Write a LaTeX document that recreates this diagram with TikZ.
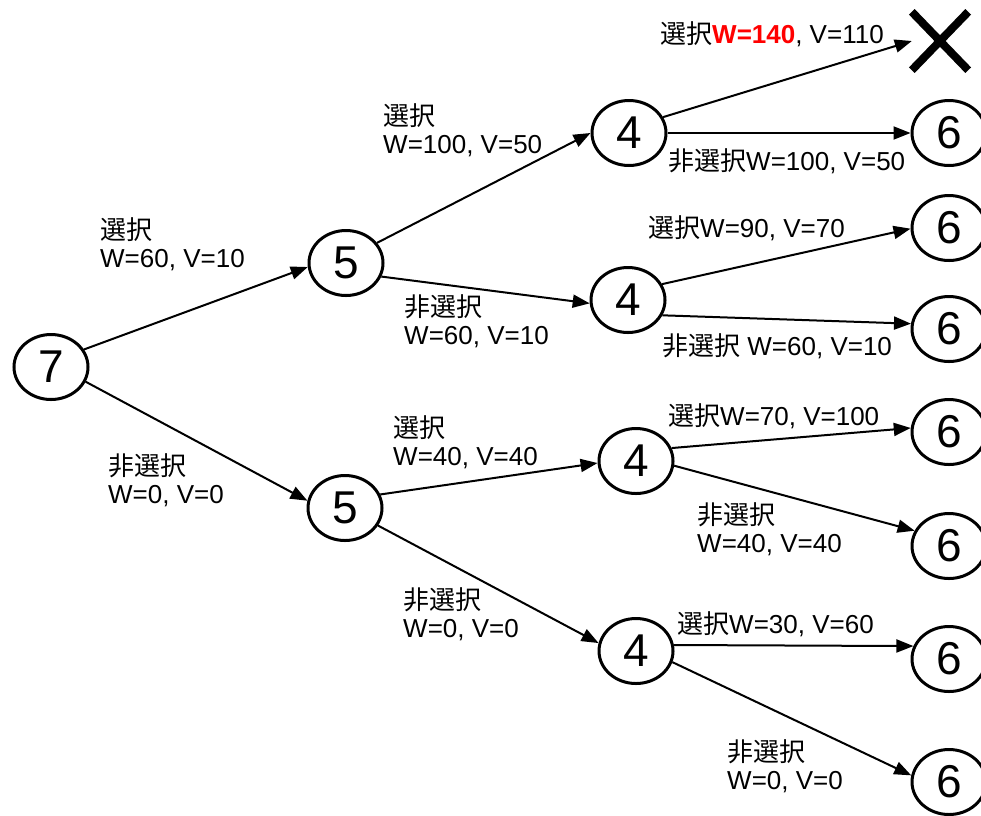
\documentclass[tikz,border=0pt]{standalone}
\usepackage{fontspec}
\setmainfont{Liberation Sans}
\newfontfamily\jp{Noto Sans CJK JP}
\usetikzlibrary{shapes.geometric,arrows.meta}
\newcommand\twol[2]{\begin{tabular}[t]{@{}l@{}}#1\\#2\end{tabular}}
\begin{document}
\begin{tikzpicture}[x=1pt,y=-1pt,
  st/.style={ellipse, draw, line width=3pt, minimum width=74pt, minimum height=65pt, inner sep=0pt,
    font=\fontsize{46}{46}\selectfont},
  lbl/.style={anchor=base west, inner sep=0pt, font=\fontsize{26}{28}\selectfont},
  edge/.style={line width=2pt, -{Triangle[length=17pt,width=13pt]}},
  cross/.style={line width=8pt}]
\useasboundingbox (0,0) rectangle (981,815);
% state nodes
\node[st] (n7) at (51,367) {7};
\node[st] (n5a) at (346,263) {5};
\node[st] (n5b) at (345,508) {5};
\node[st] (n4a) at (629,133) {4};
\node[st] (n4b) at (628,300) {4};
\node[st] (n4c) at (636,461) {4};
\node[st] (n4d) at (636,651) {4};
\node[st] (n6a) at (949,133) {6};
\node[st] (n6b) at (949,228) {6};
\node[st] (n6c) at (949,329) {6};
\node[st] (n6d) at (949,432) {6};
\node[st] (n6e) at (949,546) {6};
\node[st] (n6f) at (949,659) {6};
\node[st] (n6g) at (949,782) {6};
% cross
\node[inner sep=0pt, minimum width=56pt, minimum height=58pt] (x) at (940,41) {};
\draw[cross] (x.north west) -- (x.south east);
\draw[cross] (x.south west) -- (x.north east);
% edges
\draw[edge] (n7.28) -- (n5a.186);
\draw[edge] (n7.337) -- (n5b.169);
\draw[edge] (n5a.33) -- (n4a.180);
\draw[edge] (n5a.339) -- (n4b.185);
\draw[edge] (n4a.25) -- (x.west);
\draw[edge] (n4a.east) -- (n6a.west);
\draw[edge] (n4b.25) -- (n6b.181);
\draw[edge] (n4b.336) -- (n6c.172);
\draw[edge] (n5b.21) -- (n4c.183);
\draw[edge] (n5b.332) -- (n4d.168);
\draw[edge] (n4c.20) -- (n6d.174);
\draw[edge] (n4c.353) -- (n6e.156);
\draw[edge] (n4d.9) -- (n6f.160);
\draw[edge] (n4d.343) -- (n6g.170);
% labels
\node[lbl] (l1) at (100,239) {\twol{{\jp 選択}}{W=60, V=10}};
\node[lbl] (l2) at (108,475) {\twol{{\jp 非選択}}{W=0, V=0}};
\node[lbl] (l3) at (383,125) {\twol{{\jp 選択}}{W=100, V=50}};
\node[lbl] (l4) at (404,316) {\twol{{\jp 非選択}}{W=60, V=10}};
\node[lbl] (l5) at (660,43) {{\jp 選択}\textcolor{red}{\bfseries W=140}, V=110};
\node[lbl] (l6) at (668,170) {{\jp 非選択}W=100, V=50};
\node[lbl] (l7) at (648,237) {{\jp 選択}W=90, V=70};
\node[lbl] (l8) at (662,355) {{\jp 非選択} W=60, V=10};
\node[lbl] (l9) at (393,437) {\twol{{\jp 選択}}{W=40, V=40}};
\node[lbl] (l10) at (403,609) {\twol{{\jp 非選択}}{W=0, V=0}};
\node[lbl] (l11) at (668,425) {{\jp 選択}W=70, V=100};
\node[lbl] (l12) at (697,524) {\twol{{\jp 非選択}}{W=40, V=40}};
\node[lbl] (l13) at (677,633) {{\jp 選択}W=30, V=60};
\node[lbl] (l14) at (727,761) {\twol{{\jp 非選択}}{W=0, V=0}};
\end{tikzpicture}
\end{document}
